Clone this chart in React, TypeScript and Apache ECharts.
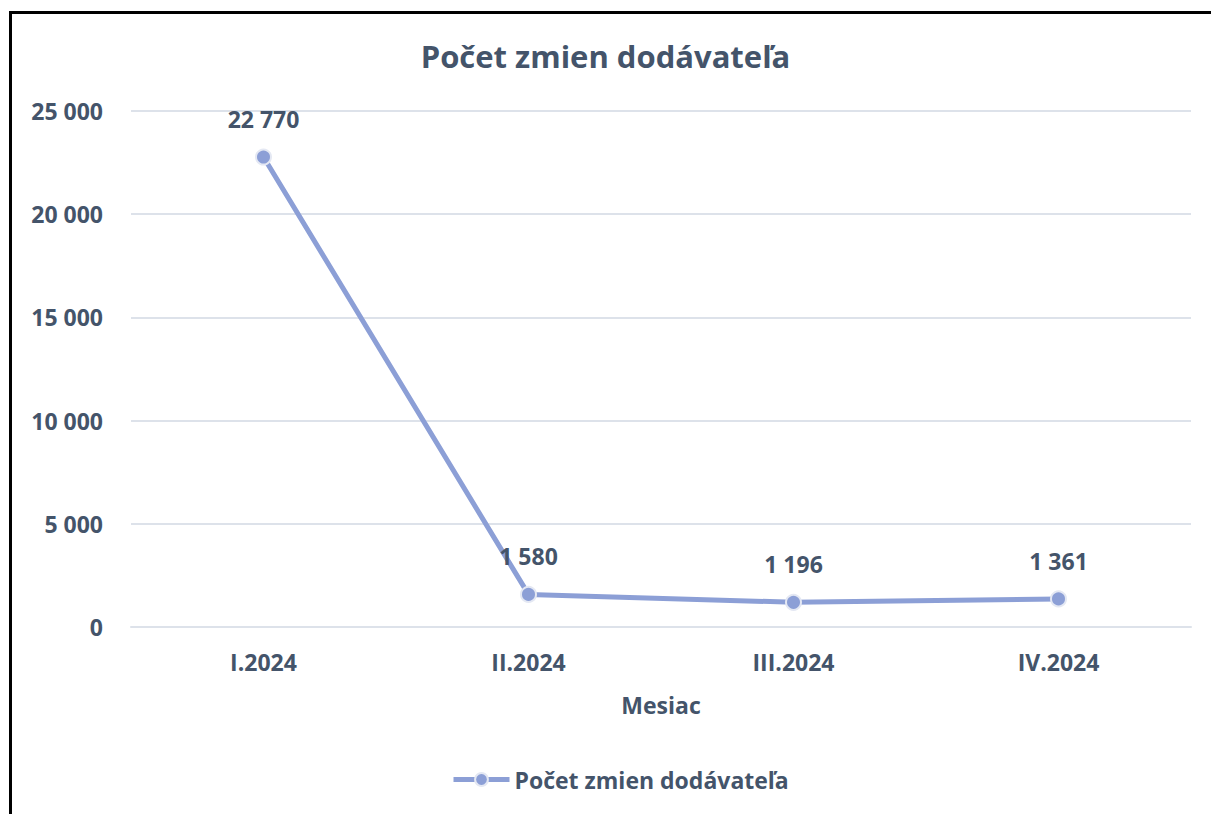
import React, { useEffect, useRef } from "react";
import * as echarts from "echarts";

const categories = ["I.2024", "II.2024", "III.2024", "IV.2024"];
const values = [22770, 1580, 1196, 1361];
const seriesName = "Počet zmien dodávateľa";
const titleText = "Počet zmien dodávateľa";
const xAxisName = "Mesiac";

const fmt = (v: number) => String(Math.round(v)).replace(/\B(?=(\d{3})+(?!\d))/g, " ");

const FONT = "Open Sans";
const TEXT = "#44546a";
const LINE = "#8c9fd6";

export default function App() {
  const ref = useRef<HTMLDivElement>(null);
  useEffect(() => {
    const chart = echarts.init(ref.current!, null, { renderer: "svg" });
    chart.setOption({
      animation: false,
      backgroundColor: "#ffffff",
      textStyle: { fontFamily: FONT },
      title: {
        text: titleText,
        left: "center",
        top: 35,
        textStyle: { fontFamily: FONT, fontSize: 31, fontWeight: "bold", color: TEXT },
      },
      graphic: [
        {
          type: "rect",
          shape: { x: 10.5, y: 12.5, width: 1400, height: 1000 },
          style: { fill: "none", stroke: "#000", lineWidth: 3 },
          silent: true,
        },
      ],
      legend: {
        bottom: 18,
        left: 446,
        itemWidth: 56,
        itemHeight: 16,
        itemGap: 4,
        data: [{ name: seriesName }],
        lineStyle: { width: 5 },
        textStyle: { fontFamily: FONT, fontSize: 23, fontWeight: "bold", color: TEXT },
      },
      grid: { left: 131, right: 20, top: 111, bottom: 187, containLabel: false },
      xAxis: {
        type: "category",
        data: categories,
        boundaryGap: true,
        name: xAxisName,
        nameLocation: "middle",
        nameGap: 66,
        nameTextStyle: { fontFamily: FONT, fontSize: 23, fontWeight: "bold", color: TEXT },
        axisLine: { show: true, lineStyle: { color: "#dde2ea", width: 2 } },
        axisTick: { show: false },
        axisLabel: { fontFamily: FONT, fontSize: 23, fontWeight: "bold", color: TEXT, margin: 23 },
      },
      yAxis: {
        type: "value",
        min: 0,
        max: 25000,
        interval: 5000,
        axisLine: { show: false },
        axisTick: { show: false },
        splitLine: { lineStyle: { color: "#dde2ea", width: 2 } },
        axisLabel: {
          fontFamily: FONT,
          fontSize: 23,
          fontWeight: "bold",
          color: TEXT,
          margin: 28,
          formatter: (v: number) => fmt(v),
        },
      },
      series: [
        {
          name: seriesName,
          type: "line",
          data: values,
          symbol: "circle",
          symbolSize: 15,
          lineStyle: { color: LINE, width: 5 },
          itemStyle: { color: LINE, borderColor: "#e4e8f3", borderWidth: 2 },
          label: {
            show: true,
            position: "top",
            distance: 18,
            fontFamily: FONT,
            fontSize: 23,
            fontWeight: "bold",
            color: TEXT,
            formatter: (p: any) => fmt(p.value),
          },
        },
      ],
    });
    return () => chart.dispose();
  }, []);
  return (
    <div style={{ position: "absolute", left: 0, top: 0, width: 1211, height: 814 }}>
      <div ref={ref} style={{ width: 1211, height: 814 }} />
    </div>
  );
}
